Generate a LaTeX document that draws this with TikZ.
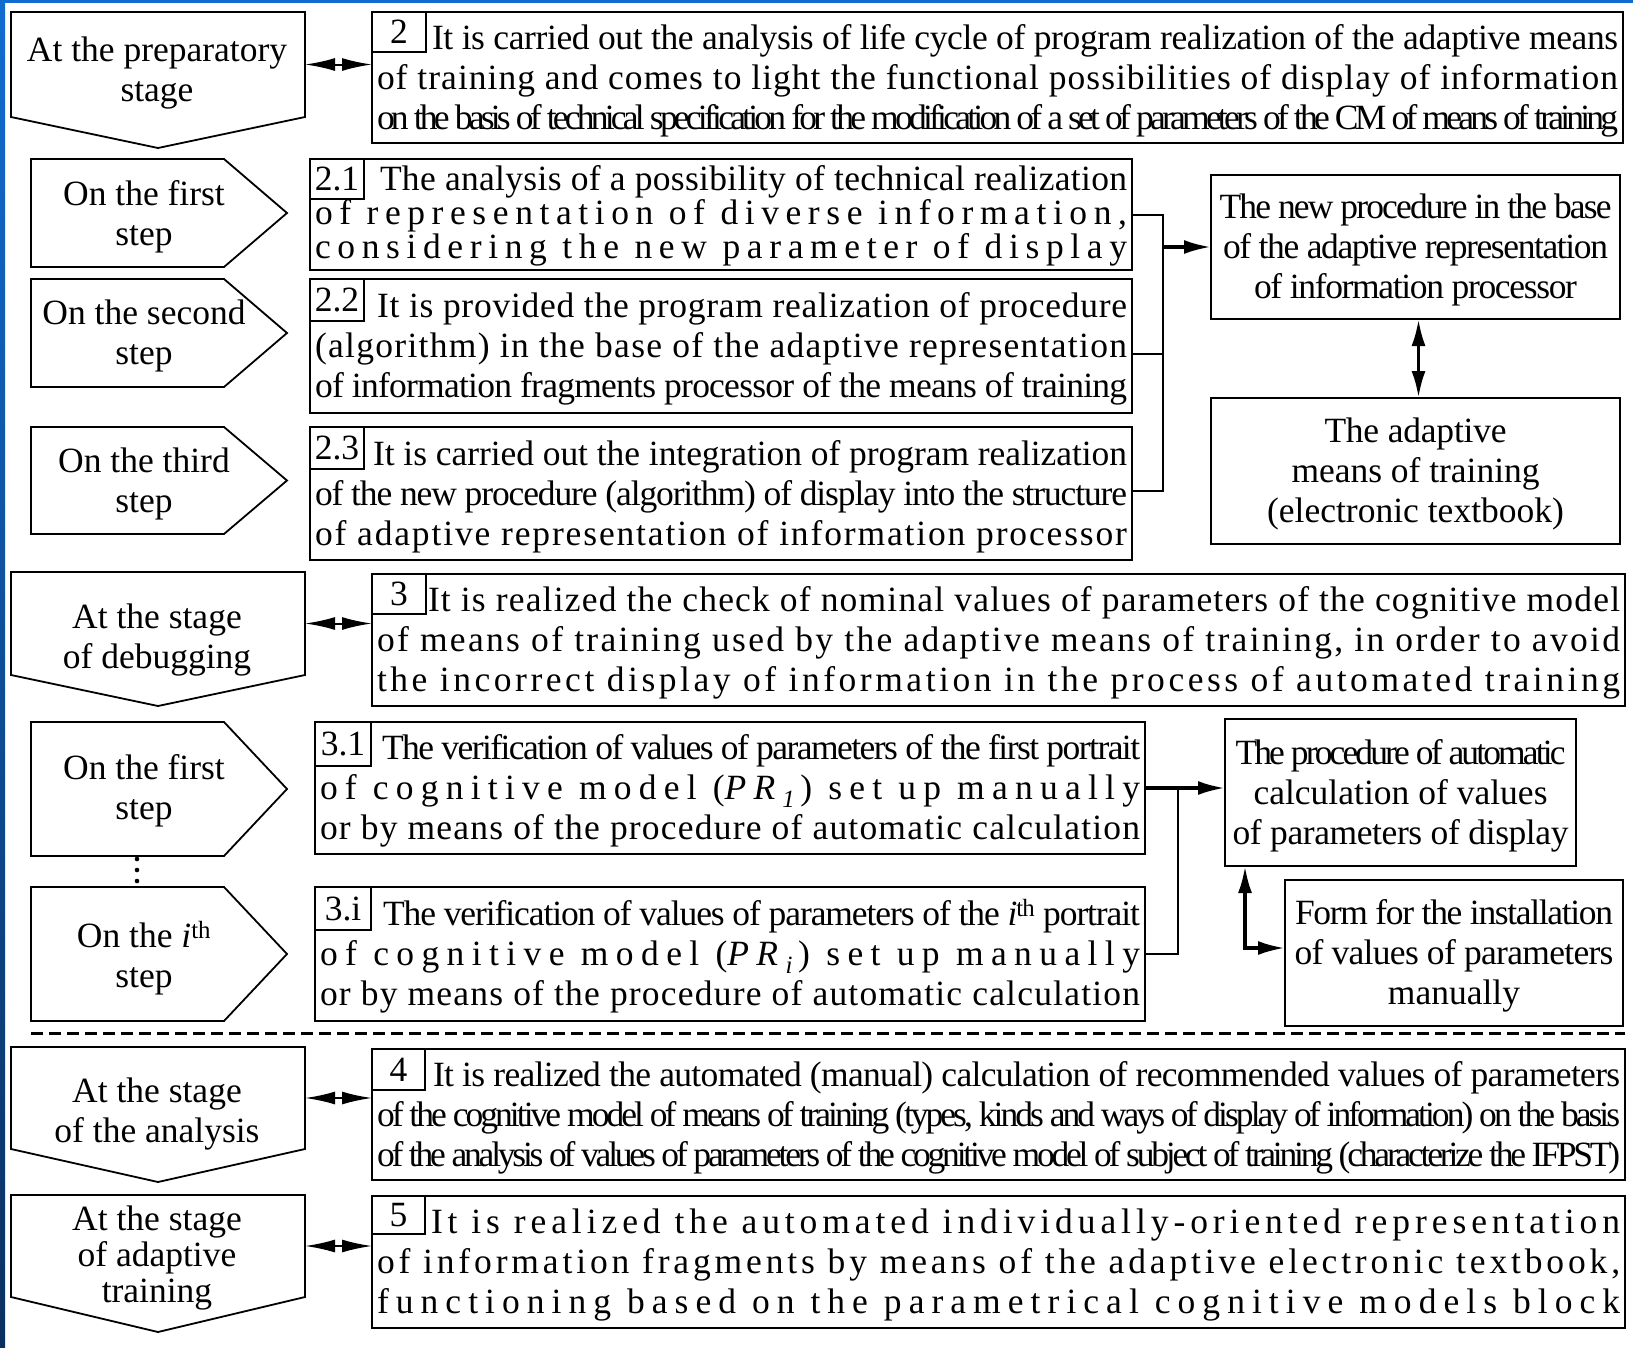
\documentclass[tikz,border=0pt]{standalone}
\usepackage{fontspec}
\setmainfont{Liberation Serif}
\usetikzlibrary{arrows.meta,calc}
\definecolor{blueA}{RGB}{18,108,208}
\definecolor{blueB}{RGB}{10,48,96}
\newlength\jlw
\newlength\jlwa
\newlength\jlwb
\newcommand\jl[2]{%
  \setlength\jlw{#1}%
  \settowidth\jlwa{#2}%
  \settowidth\jlwb{\addfontfeature{LetterSpace=10}#2}%
  \ifdim\jlwb=\jlwa
    \makebox[\jlw][s]{#2}%
  \else
    \pgfmathsetmacro\jls{10*(\jlw-\jlwa)/(\jlwb-\jlwa)}%
    \makebox[\jlw][s]{\addfontfeature{LetterSpace=\jls}#2}%
  \fi}
\newcommand\cl[2]{\jl{#1pt}{#2}}
\newcommand\tlines[7][7]{%
  \vbox{\kern#1pt\baselineskip=#2pt\lineskiplimit=-100pt\lineskip=0pt
    \hbox{\strut\kern#3pt\jl{\dimexpr#4pt-#3pt\relax}{#5}}%
    \hbox{\strut\jl{#4pt}{#6}}%
    \hbox{\strut\jl{#4pt}{#7}}}}
\newcommand\cbox[3]{%
  \vbox{\kern7pt\baselineskip=40pt\lineskiplimit=-100pt\lineskip=0pt
    \halign{\hfil\strut##\hfil\cr #1\cr #2\cr #3\cr}}}
\newcommand\dpent[6]{%
  \node[shapebox, minimum width={#4-#2}, minimum height={#5-#3}] (#1) at (#2,#3) {};
  \draw[fr] (#1.north west) -- (#1.north east) -- (#1.south east) -- ([yshift=-#6pt]#1.south) -- (#1.south west) -- cycle;}
\newcommand\rpent[6]{%
  \node[shapebox, minimum width={#4-#2}, minimum height={#5-#3}] (#1) at (#2,#3) {};
  \draw[fr] (#1.north west) -- (#1.north east) -- ([xshift=#6pt]#1.east) -- (#1.south east) -- (#1.south west) -- cycle;}
\tikzset{
  every node/.style={inner sep=0pt, outer sep=0pt, font=\fontsize{35.5}{40}\selectfont},
  fr/.style={draw, line width=1.8pt, line join=miter},
  shapebox/.style={anchor=north west, draw=none},
  tbox/.style={draw, line width=1.8pt, anchor=north west},
  lbl/.style={draw, line width=1.8pt, anchor=north west, minimum width=54pt, minimum height=40pt},
  ptxt/.style={align=center},
  conn/.style={line width=2pt},
  dblh/.style={line width=2pt, {Latex[length=30pt,width=13pt]}-{Latex[length=30pt,width=13pt]}},
  thickarr/.style={line width=3.5pt, -{Latex[length=27pt,width=14pt]}},
  dblthick/.style={line width=3.5pt, {Latex[length=27pt,width=14pt]}-{Latex[length=27pt,width=14pt]}},
}
\begin{document}
\begin{tikzpicture}[x=1pt,y=-1pt]
\useasboundingbox (0,0) rectangle (1633,1347);
\fill[white] (0,0) rectangle (1633,1347);
\shade[top color=blueA, bottom color=blueB] (0,0) rectangle (5,1347);
\fill[blueA] (0,0) rectangle (1633,3);

% ---- stage pentagons (pointing down)
\dpent{sp}{11}{12}{305}{117}{31}
\dpent{sd}{11}{572}{305}{675}{31}
\dpent{sa}{11}{1047}{305}{1149}{33}
\dpent{st}{11}{1195}{305}{1297}{35}
\node[ptxt] (tsp) at (157,73) {At the preparatory\\stage};
\node[ptxt] (tsd) at (157,640) {At the stage\\of debugging};
\node[ptxt] (tsa) at (157,1114) {At the stage\\of the analysis};
\node[ptxt, font=\fontsize{35.5}{36}\selectfont] (tst) at (157,1258) {At the stage\\of adaptive\\training};

% ---- step pentagons (pointing right)
\rpent{p1}{31}{159}{224}{267}{63}
\rpent{p2}{31}{279}{224}{387}{63}
\rpent{p3}{31}{427}{224}{534}{63}
\rpent{q1}{31}{722}{224}{856}{63}
\rpent{qi}{31}{887}{224}{1021}{63}
\node[ptxt] (tp1) at (144,217) {On the first\\step};
\node[ptxt] (tp2) at (144,336) {On the second\\step};
\node[ptxt] (tp3) at (144,484) {On the third\\step};
\node[ptxt] (tq1) at (144,791) {On the first\\step};
\node[ptxt] (tqi) at (144,958) {On the \textit{i}\textsuperscript{th}\\step};
\fill (137,859) circle (2.3) (137,870) circle (2.3) (137,881) circle (2.3);

% ---- text boxes
\node[tbox, minimum width=1251pt, minimum height=131pt] (b2) at (372,12)
 {\tlines{40}{55}{1241}
 {It is carried out the analysis of life cycle of program realization of the adaptive means}
 {of training and comes to light the functional possibilities of display of information}
 {on the basis of technical specification for the modification of a set of parameters of the CM of means of training}};
\node[lbl] (l2) at (b2.north west) {2};

\node[tbox, minimum width=822pt, minimum height=108pt] (b21) at (310,159)
 {\tlines[3]{34}{65}{812}
 {The analysis of a possibility of technical realization}
 {of representation of diverse information,}
 {considering the new parameter of display}};
\node[lbl, minimum height=40pt] (l21) at (b21.north west) {2.1};

\node[tbox, minimum width=822pt, minimum height=134pt] (b22) at (310,279)
 {\tlines{40}{62}{812}
 {It is provided the program realization of procedure}
 {(algorithm) in the base of the adaptive representation}
 {of information fragments processor of the means of training}};
\node[lbl, minimum height=42pt] (l22) at (b22.north west) {2.2};

\node[tbox, minimum width=822pt, minimum height=133pt] (b23) at (310,427)
 {\tlines{40}{58}{812}
 {It is carried out the integration of program realization}
 {of the new procedure (algorithm) of display into the structure}
 {of adaptive representation of information processor}};
\node[lbl, minimum height=42pt] (l23) at (b23.north west) {2.3};

\node[tbox, minimum width=1253pt, minimum height=132pt] (b3) at (372,574)
 {\tlines{40}{51}{1243}
 {It is realized the check of nominal values of parameters of the cognitive model}
 {of means of training used by the adaptive means of training, in order to avoid}
 {the incorrect display of information in the process of automated training}};
\node[lbl] (l3) at (b3.north west) {3};

\node[tbox, minimum width=830pt, minimum height=132pt] (b31) at (315,722)
 {\tlines{40}{62}{820}
 {The verification of values of parameters of the first portrait}
 {of cognitive model (\textit{PR}\textsubscript{\textit{1}}) set up manually}
 {or by means of the procedure of automatic calculation}};
\node[lbl, minimum width=56pt, minimum height=44pt] (l31) at (b31.north west) {3.1};

\node[tbox, minimum width=830pt, minimum height=134pt] (b3i) at (315,887)
 {\tlines{40}{63}{820}
 {The verification of values of parameters of the \textit{i}\textsuperscript{th} portrait}
 {of cognitive model (\textit{PR}\textsubscript{\textit{i}}) set up manually}
 {or by means of the procedure of automatic calculation}};
\node[lbl, minimum width=56pt, minimum height=43pt] (l3i) at (b3i.north west) {3.i\hspace{8pt}};

\node[tbox, minimum width=1253pt, minimum height=131pt] (b4) at (372,1049)
 {\tlines{40}{56}{1243}
 {It is realized the automated (manual) calculation of recommended values of parameters}
 {of the cognitive model of means of training (types, kinds and ways of display of information) on the basis}
 {of the analysis of values of parameters of the cognitive model of subject of training (characterize the IFPST)}};
\node[lbl, minimum width=53pt, minimum height=41pt] (l4) at (b4.north west) {4};

\node[tbox, minimum width=1253pt, minimum height=132pt] (b5) at (372,1196)
 {\tlines{40}{54}{1243}
 {It is realized the automated individually-oriented representation}
 {of information fragments by means of the adaptive electronic textbook,}
 {functioning based on the parametrical cognitive models block}};
\node[lbl, minimum width=53pt, minimum height=38pt] (l5) at (b5.north west) {5};

% ---- right boxes
\node[tbox, minimum width=409pt, minimum height=144pt] (np) at (1211,175)
 {\cbox{\cl{392}{The new procedure in the base}}{\cl{385}{of the adaptive representation}}{\cl{323}{of information processor}}};
\node[tbox, minimum width=409pt, minimum height=146pt] (am) at (1211,398)
 {\cbox{\cl{182}{The adaptive}}{\cl{248}{means of training}}{\cl{297}{(electronic textbook)}}};
\node[tbox, minimum width=351pt, minimum height=147pt] (pa) at (1225,719)
 {\cbox{\cl{330}{The procedure of automatic}}{\cl{294}{calculation of values}}{\cl{336}{of parameters of display}}};
\node[tbox, minimum width=338pt, minimum height=146pt] (form) at (1285,880)
 {\cbox{\cl{318}{Form for the installation}}{\cl{319}{of values of parameters}}{manually}};

% ---- connectors
\draw[dblh] (sp.east) -- (sp.east -| b2.west);
\draw[dblh] (sd.east) -- (sd.east -| b3.west);
\draw[dblh] (sa.east) -- (sa.east -| b4.west);
\draw[dblh] (st.east) -- (st.east -| b5.west);

\coordinate (j1) at (1163,212);
\draw[conn] (b21.east) -- (b21.east -| j1) -- ([yshift=3pt]b23.east -| j1) -- ([yshift=3pt]b23.east);
\draw[conn] ([yshift=-8pt]b22.east) -- ([yshift=-8pt]b22.east -| j1);
\draw[thickarr] (j1 |- np.west) -- (np.west);
\draw[dblthick] ([xshift=3pt]np.south) -- ([xshift=3pt]am.north);

\coordinate (j2) at (1178,788);
\draw[conn] (b3i.east) -- (b3i.east -| j2) -- (j2 |- b31.east);
\draw[thickarr] (b31.east) -- (b31.east -| pa.west);
\draw[dblthick] ([xshift=20pt]pa.south west) |- ([yshift=5pt]form.west);

% ---- dashed separator
\coordinate (dL) at (31,1033);
\coordinate (dR) at (1625,1033);
\draw[line width=3pt, dash pattern=on 12pt off 6pt] (dL) -- (dR);
\end{tikzpicture}
\end{document}
